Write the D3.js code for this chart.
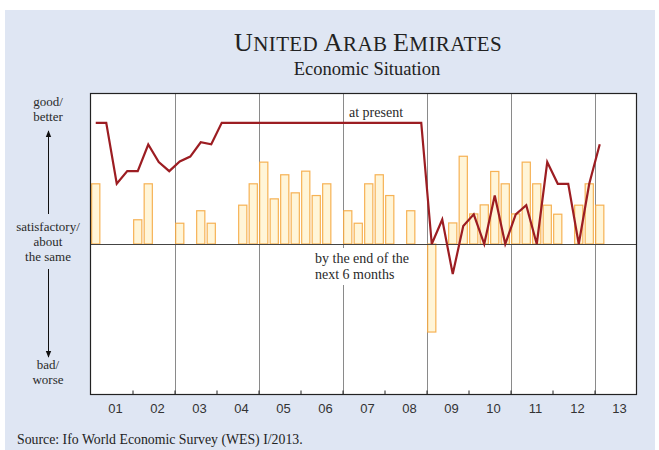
<!DOCTYPE html>
<html>
<head>
<meta charset="utf-8">
<script src="https://cdn.jsdelivr.net/npm/d3@7"></script>
<style>
  html, body { margin: 0; padding: 0; background: #fff; }
  svg { display: block; }
</style>
</head>
<body>
<svg id="chart" width="659" height="450"></svg>
<script>
// Quarterly survey periods, 2001 Q1 – 2013 Q1
const quarters = d3.range(49).map(i => `${2001 + Math.floor(i / 4)}Q${(i % 4) + 1}`);

// Economic situation at present (line)
const presentValues = [
  80.5, 80.5, 40.0, 48.4, 48.4, 66.1, 54.4, 48.4,
  54.8, 58.1, 67.6, 66.3, 80.5, 80.5, 80.5, 80.5,
  80.5, 80.5, 80.5, 80.5, 80.5, 80.5, 80.5, 80.5,
  80.5, 80.5, 80.5, 80.5, 80.5, 80.5, 80.5, 80.5,
  0.0, 16.3, -20.0, 12.0, 19.7, 0.0, 32.2, 0.0,
  19.7, 25.8, 0.0, 54.4, 40.0, 40.0, 0.0, 40.0,
  66.3
];

// Expectations by the end of the next 6 months (bars); null = no bar
const expectValues = [
  40.0, null, null, null, 16.1, 40.0, null, null,
  13.8, null, 22.1, 13.8, null, null, 25.8, 40.0,
  54.4, 30.0, 46.0, 34.0, 48.4, 32.2, 40.0, null,
  22.1, 13.8, 40.0, 46.0, 32.2, null, 22.1, null,
  -58.5, null, 14.0, 58.3, 20.0, 26.0, 48.2, 40.0,
  20.0, 54.4, 40.0, 25.8, 19.8, null, 25.8, 40.0,
  25.8
];

// Axis: one slot per year, labels "01" … "13"
const years = d3.range(2001, 2014);
const yearLabels = years.map(y => String(y % 100).padStart(2, "0"));
const gridYears = [2003, 2005, 2007, 2009, 2011, 2013];

const svg = d3.select("#chart");
const serif = "'Liberation Serif', 'Times New Roman', serif";
const sans = "'Liberation Sans', Arial, sans-serif";

// Panel background
svg.append("rect").attr("x", 5).attr("y", 10).attr("width", 650).attr("height", 440)
  .attr("fill", "#dfe6f3");

const plot = { left: 90.5, right: 636.5, top: 93.5, bottom: 394.5 };

const x = d3.scaleLinear().domain([2001, 2014]).range([plot.left, plot.right]);
const y = d3.scaleLinear().domain([-100, 100]).range([plot.bottom, plot.top]);
const qx = i => x(2001 + (i + 0.5) / 4);
const barW = (x(2001.25) - x(2001)) * 0.78;

// Plot area
svg.append("rect")
  .attr("x", plot.left).attr("y", plot.top)
  .attr("width", plot.right - plot.left).attr("height", plot.bottom - plot.top)
  .attr("fill", "#fff");

// Vertical grid lines every two years
svg.append("g").selectAll("line").data(gridYears).join("line")
  .attr("x1", d => Math.round(x(d)) + 0.5).attr("x2", d => Math.round(x(d)) + 0.5)
  .attr("y1", plot.top).attr("y2", plot.bottom)
  .attr("stroke", "#8a8a8a").attr("stroke-width", 1);

// Label box for the expectations series (masks the grid line)
const expLabel = svg.append("g");
expLabel.append("rect").attr("x", 312).attr("y", 248).attr("width", 106).attr("height", 37)
  .attr("fill", "#fff");
expLabel.append("text").attr("x", 315).attr("y", 263)
  .attr("font-family", serif).attr("font-size", 14).attr("fill", "#2a2a2a")
  .text("by the end of the");
expLabel.append("text").attr("x", 315).attr("y", 279)
  .attr("font-family", serif).attr("font-size", 14).attr("fill", "#2a2a2a")
  .text("next 6 months");

// Expectation bars
const barData = expectValues.map((v, i) => ({ q: quarters[i], i, v })).filter(d => d.v !== null);
svg.append("g").selectAll("rect").data(barData).join("rect")
  .attr("x", d => qx(d.i) - barW / 2)
  .attr("y", d => Math.min(y(d.v), y(0)))
  .attr("width", barW)
  .attr("height", d => Math.abs(y(d.v) - y(0)))
  .attr("fill", "#fff5d8")
  .attr("stroke", "#f5a43a")
  .attr("stroke-opacity", 0.85)
  .attr("stroke-width", 1.2);

// Zero line
svg.append("line")
  .attr("x1", plot.left).attr("x2", plot.right)
  .attr("y1", Math.round(y(0)) + 0.5).attr("y2", Math.round(y(0)) + 0.5)
  .attr("stroke", "#444").attr("stroke-width", 1);

// Present situation line
const line = d3.line().x((d, i) => qx(i)).y(d => y(d));
svg.append("path").datum(presentValues)
  .attr("d", line)
  .attr("fill", "none")
  .attr("stroke", "#9c1d22")
  .attr("stroke-width", 2.2)
  .attr("stroke-linejoin", "miter");

svg.append("text").attr("x", 376).attr("y", 117).attr("text-anchor", "middle")
  .attr("font-family", serif).attr("font-size", 14).attr("fill", "#2a2a2a")
  .text("at present");

// Bottom axis: inward ticks at year boundaries
const axis = d3.axisBottom(x)
  .tickValues(d3.range(2002, 2014))
  .tickSize(-4)
  .tickFormat("");
const axG = svg.append("g").attr("transform", `translate(0,${plot.bottom})`).call(axis);
axG.select(".domain").remove();
axG.selectAll(".tick line").attr("stroke", "#222");

svg.append("g").selectAll("text").data(years).join("text")
  .attr("x", d => x(d + 0.5) + 4)
  .attr("y", 413)
  .attr("text-anchor", "middle")
  .attr("font-family", sans).attr("font-size", 13).attr("fill", "#333")
  .text((d, i) => yearLabels[i]);

// Plot frame
svg.append("rect")
  .attr("x", plot.left).attr("y", plot.top)
  .attr("width", plot.right - plot.left).attr("height", plot.bottom - plot.top)
  .attr("fill", "none").attr("stroke", "#222").attr("stroke-width", 1.2);

// Left scale description with arrows
const leftLabels = [
  { t: "good/", y: 106 }, { t: "better", y: 121 },
  { t: "satisfactory/", y: 231 }, { t: "about", y: 246 }, { t: "the same", y: 261 },
  { t: "bad/", y: 369 }, { t: "worse", y: 384 }
];
svg.append("g").selectAll("text").data(leftLabels).join("text")
  .attr("x", 48).attr("y", d => d.y).attr("text-anchor", "middle")
  .attr("font-family", serif).attr("font-size", 13).attr("fill", "#2a2a2a")
  .text(d => d.t);

const defs = svg.append("defs");
defs.append("marker").attr("id", "arrowhead")
  .attr("viewBox", "0 0 10 10").attr("refX", 9).attr("refY", 5)
  .attr("markerWidth", 7).attr("markerHeight", 7).attr("orient", "auto")
  .append("path").attr("d", "M0,1 L10,5 L0,9 Z").attr("fill", "#111");

svg.append("line").attr("x1", 48.5).attr("x2", 48.5).attr("y1", 214).attr("y2", 131)
  .attr("stroke", "#111").attr("stroke-width", 1).attr("marker-end", "url(#arrowhead)");
svg.append("line").attr("x1", 48.5).attr("x2", 48.5).attr("y1", 269).attr("y2", 357)
  .attr("stroke", "#111").attr("stroke-width", 1).attr("marker-end", "url(#arrowhead)");

// Titles
const title = svg.append("text").attr("x", 368).attr("y", 51).attr("text-anchor", "middle")
  .attr("font-family", serif).attr("fill", "#222").attr("letter-spacing", 0.4);
[["U", 26], ["NITED ", 21], ["A", 26], ["RAB ", 21], ["E", 26], ["MIRATES", 21]]
  .forEach(([t, s]) => title.append("tspan").attr("font-size", s).text(t));

svg.append("text").attr("x", 367).attr("y", 75).attr("text-anchor", "middle")
  .attr("font-family", serif).attr("font-size", 18.5).attr("fill", "#222")
  .text("Economic Situation");

// Source note
svg.append("text").attr("x", 17).attr("y", 444)
  .attr("font-family", serif).attr("font-size", 13.8).attr("fill", "#222")
  .text("Source: Ifo World Economic Survey (WES) I/2013.");
</script>
</body>
</html>
